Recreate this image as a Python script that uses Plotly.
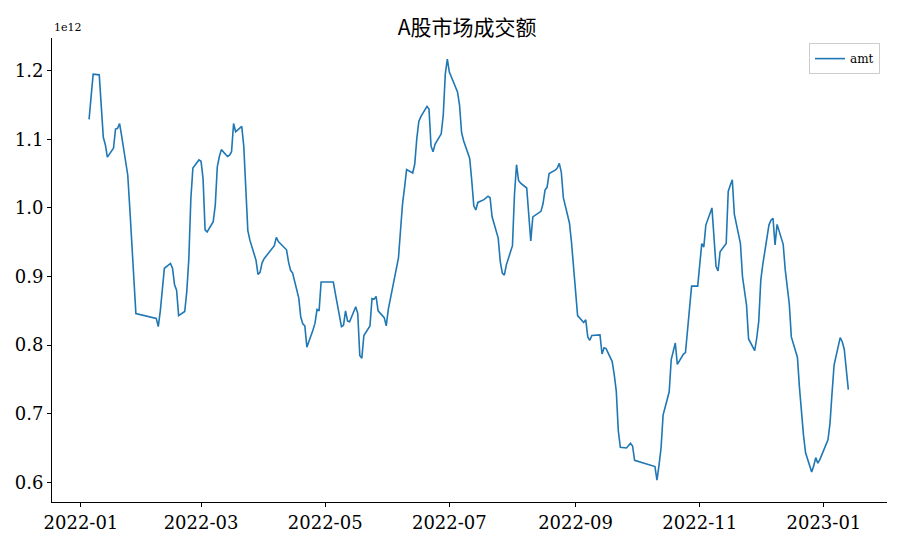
import plotly.graph_objects as go

dates = [
    "2022-01-05","2022-01-06","2022-01-07","2022-01-10","2022-01-11","2022-01-12","2022-01-13","2022-01-14",
    "2022-01-17","2022-01-18","2022-01-19","2022-01-20","2022-01-21","2022-01-24","2022-01-25","2022-01-26",
    "2022-01-27","2022-01-28","2022-02-07","2022-02-08","2022-02-09","2022-02-10","2022-02-11","2022-02-14",
    "2022-02-15","2022-02-16","2022-02-17","2022-02-18","2022-02-21","2022-02-22","2022-02-23","2022-02-24",
    "2022-02-25","2022-02-28","2022-03-01","2022-03-02","2022-03-03","2022-03-04","2022-03-07","2022-03-08",
    "2022-03-09","2022-03-10","2022-03-11","2022-03-14","2022-03-15","2022-03-16","2022-03-17","2022-03-18",
    "2022-03-21","2022-03-22","2022-03-23","2022-03-24","2022-03-25","2022-03-28","2022-03-29","2022-03-30",
    "2022-03-31","2022-04-01","2022-04-06","2022-04-07","2022-04-08","2022-04-11","2022-04-12","2022-04-13",
    "2022-04-14","2022-04-15","2022-04-18","2022-04-19","2022-04-20","2022-04-21","2022-04-22","2022-04-25",
    "2022-04-26","2022-04-27","2022-04-28","2022-04-29","2022-05-05","2022-05-06","2022-05-09","2022-05-10",
    "2022-05-11","2022-05-12","2022-05-13","2022-05-16","2022-05-17","2022-05-18","2022-05-19","2022-05-20",
    "2022-05-23","2022-05-24","2022-05-25","2022-05-26","2022-05-27","2022-05-30","2022-05-31","2022-06-01",
    "2022-06-02","2022-06-06","2022-06-07","2022-06-08","2022-06-09","2022-06-10","2022-06-13","2022-06-14",
    "2022-06-15","2022-06-16","2022-06-17","2022-06-20","2022-06-21","2022-06-22","2022-06-23","2022-06-24",
    "2022-06-27","2022-06-28","2022-06-29","2022-06-30","2022-07-01","2022-07-04","2022-07-05","2022-07-06",
    "2022-07-07","2022-07-08","2022-07-11","2022-07-12","2022-07-13","2022-07-14","2022-07-15","2022-07-18",
    "2022-07-19","2022-07-20","2022-07-21","2022-07-22","2022-07-25","2022-07-26","2022-07-27","2022-07-28",
    "2022-07-29","2022-08-01","2022-08-02","2022-08-03","2022-08-04","2022-08-05","2022-08-08","2022-08-09",
    "2022-08-10","2022-08-11","2022-08-12","2022-08-15","2022-08-16","2022-08-17","2022-08-18","2022-08-19",
    "2022-08-22","2022-08-23","2022-08-24","2022-08-25","2022-08-26","2022-08-29","2022-08-30","2022-08-31",
    "2022-09-01","2022-09-02","2022-09-05","2022-09-06","2022-09-07","2022-09-08","2022-09-09","2022-09-13",
    "2022-09-14","2022-09-15","2022-09-16","2022-09-19","2022-09-20","2022-09-21","2022-09-22","2022-09-23",
    "2022-09-26","2022-09-27","2022-09-28","2022-09-29","2022-09-30","2022-10-10","2022-10-11","2022-10-12",
    "2022-10-13","2022-10-14","2022-10-17","2022-10-18","2022-10-19","2022-10-20","2022-10-21","2022-10-24",
    "2022-10-25","2022-10-26","2022-10-27","2022-10-28","2022-10-31","2022-11-01","2022-11-02","2022-11-03",
    "2022-11-04","2022-11-07","2022-11-08","2022-11-09","2022-11-10","2022-11-11","2022-11-14","2022-11-15",
    "2022-11-16","2022-11-17","2022-11-18","2022-11-21","2022-11-22","2022-11-23","2022-11-24","2022-11-25",
    "2022-11-28","2022-11-29","2022-11-30","2022-12-01","2022-12-02","2022-12-05","2022-12-06","2022-12-07",
    "2022-12-08","2022-12-09","2022-12-12","2022-12-13","2022-12-14","2022-12-15","2022-12-16","2022-12-19",
    "2022-12-20","2022-12-21","2022-12-22","2022-12-23","2022-12-26","2022-12-27","2022-12-28","2022-12-29",
    "2022-12-30","2023-01-03","2023-01-04","2023-01-05","2023-01-06","2023-01-09","2023-01-10","2023-01-11",
    "2023-01-12","2023-01-13",
]

amt = [  # unit: 1e12
    1.129,1.160,1.195,1.194,1.150,1.103,1.092,1.074,
    1.087,1.115,1.116,1.123,1.105,1.048,1.000,0.950,
    0.899,0.846,0.839,0.827,0.850,0.880,0.912,0.919,
    0.912,0.888,0.880,0.843,0.849,0.878,0.925,1.013,
    1.058,1.070,1.068,1.043,0.968,0.965,0.980,1.004,
    1.060,1.075,1.085,1.075,1.077,1.082,1.123,1.111,
    1.119,1.090,1.028,0.967,0.953,0.924,0.903,0.906,
    0.920,0.926,0.945,0.957,0.951,0.942,0.939,0.921,
    0.909,0.905,0.869,0.841,0.831,0.828,0.797,0.822,
    0.832,0.852,0.850,0.892,0.892,0.875,0.827,0.829,
    0.850,0.835,0.834,0.856,0.846,0.785,0.781,0.814,
    0.828,0.868,0.867,0.871,0.850,0.840,0.828,0.852,
    0.866,0.927,0.967,1.006,1.030,1.056,1.051,1.064,
    1.101,1.126,1.133,1.148,1.144,1.090,1.082,1.093,
    1.108,1.135,1.195,1.217,1.198,1.176,1.169,1.150,
    1.110,1.098,1.072,1.040,1.003,0.997,1.008,1.012,
    1.015,1.017,1.015,0.987,0.956,0.922,0.905,0.902,
    0.917,0.945,1.020,1.063,1.040,1.036,1.029,0.987,
    0.952,0.987,0.989,0.995,1.006,1.026,1.030,1.050,
    1.055,1.058,1.065,1.052,1.015,0.978,0.950,0.917,
    0.880,0.843,0.833,0.837,0.812,0.807,0.814,0.815,
    0.787,0.796,0.795,0.776,0.757,0.733,0.675,0.651,
    0.650,0.653,0.657,0.653,0.632,0.623,0.603,0.625,
    0.650,0.698,0.732,0.779,0.790,0.803,0.772,0.787,
    0.789,0.820,0.853,0.886,0.886,0.918,0.948,0.943,
    0.975,1.000,0.960,0.915,0.908,0.936,0.948,1.024,
    1.033,1.041,0.991,0.948,0.900,0.880,0.858,0.809,
    0.792,0.810,0.835,0.895,0.918,0.975,0.982,0.985,
    0.946,0.976,0.947,0.910,0.885,0.860,0.812,0.782,
    0.738,0.698,0.668,0.643,0.615,0.624,0.636,0.628,
    0.633,0.662,0.686,0.730,0.771,0.811,0.805,0.794,
    0.765,0.735,
]

y_ticks = [0.6, 0.7, 0.8, 0.9, 1.0, 1.1, 1.2]
y_tick_labels = ["0.6", "0.7", "0.8", "0.9", "1.0", "1.1", "1.2"]

serif = "DejaVu Serif, Liberation Serif, serif"

fig = go.Figure()
fig.add_trace(go.Scatter(
    x=dates, y=amt, mode="lines", name="amt",
    line=dict(color="#1f77b4", width=1.6),
))

fig.update_layout(
    width=900, height=540,
    margin=dict(l=52, r=13, t=38, b=38),
    paper_bgcolor="white", plot_bgcolor="white",
    title=dict(text="A股市场成交额", x=0.519, xanchor="center", y=0.948, yanchor="middle",
               font=dict(family="Noto Sans CJK SC, DejaVu Serif", size=21, color="black")),
    showlegend=True,
    legend=dict(x=0.9916, y=0.989, xanchor="right", yanchor="top",
                bgcolor="rgba(255,255,255,0.8)", bordercolor="#cccccc", borderwidth=1,
                font=dict(family=serif, size=12, color="black")),
    annotations=[dict(text="1e12", xref="paper", yref="paper", x=0, y=1.0, xanchor="left",
                      yanchor="bottom", yshift=2, showarrow=False,
                      font=dict(family=serif, size=11, color="black"))],
)

fig.update_xaxes(
    type="date", range=["2021-12-17 19:00", "2023-02-01"],
    tick0="2022-01-01", dtick="M2", tickformat="%Y-%m", automargin=False,
    showgrid=False, zeroline=False, showline=True, linecolor="black", linewidth=1,
    ticks="outside", ticklen=4, tickcolor="black",
    tickfont=dict(family=serif, size=18, color="black"),
)
fig.update_yaxes(
    range=[0.5713, 1.2477], tickvals=y_ticks, ticktext=y_tick_labels, automargin=False,
    showgrid=False, zeroline=False, showline=True, linecolor="black", linewidth=1,
    ticks="outside", ticklen=4, tickcolor="black",
    tickfont=dict(family=serif, size=18, color="black"),
)

fig.write_html("out.html", config={"displayModeBar": False},
               post_script="document.body.style.margin='0px';document.body.style.overflow='hidden';")
